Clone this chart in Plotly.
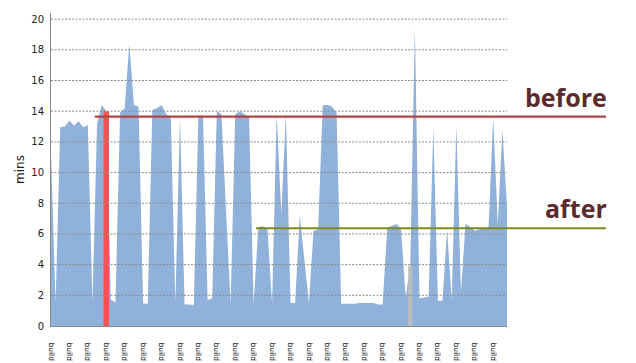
import plotly.graph_objects as go

# ---- data ----
mins = [11.3, 1.5, 12.95, 13.0, 13.4, 13.05, 13.35, 12.95, 13.1, 1.5,
        13.2, 14.4, 14.0, 1.7, 1.55, 13.9, 14.2, 18.4, 14.4, 14.3,
        1.47, 1.45, 14.1, 14.2, 14.4, 13.8, 13.6, 1.5, 13.6, 1.4,
        1.4, 1.35, 13.7, 13.7, 1.7, 1.8, 14.0, 13.8, 7.5, 1.4,
        13.8, 14.0, 13.8, 13.6, 1.4, 6.45, 6.5, 6.3, 1.45, 13.85,
        7.3, 13.85, 1.5, 1.5, 7.2, 4.5, 1.5, 6.2, 6.3, 14.4,
        14.4, 14.3, 13.9, 1.45, 1.45, 1.45, 1.45, 1.5, 1.5, 1.5,
        1.5, 1.4, 1.4, 6.4, 6.55, 6.65, 6.3, 1.85, 3.9, 19.5,
        1.8, 1.85, 1.9, 12.9, 1.65, 1.65, 6.3, 1.65, 13.1, 2.2,
        6.67, 6.45, 6.2, 6.3, 6.4, 6.4, 13.6, 6.6, 12.8, 7.7]
builds = list(range(len(mins)))
tick_idx = builds[::4]
tick_text = ["build"] * len(tick_idx)
y_ticks = [0, 2, 4, 6, 8, 10, 12, 14, 16, 18, 20]

failed_build = 12      # red highlight
pending_build = 78     # grey highlight

before_value = 13.65
before_start = 9.5
after_value = 6.37
after_start = 44.5

# ---- layout constants ----
X_MAX = len(mins) - 1
LINE_END_PAPER = 1.217

fig = go.Figure()
fig.add_trace(go.Scatter(x=builds, y=mins, mode="lines", fill="tozeroy",
                         line=dict(width=0, color="#8FB1DA"),
                         fillcolor="#8FB1DA", hoverinfo="skip"))
fig.add_trace(go.Scatter(x=[failed_build, failed_build], y=[0, mins[failed_build]],
                         mode="lines", line=dict(width=5.5, color="#F25454"),
                         hoverinfo="skip"))
fig.add_trace(go.Scatter(x=[pending_build, pending_build], y=[0, mins[pending_build]],
                         mode="lines", line=dict(width=4, color="#BDBDBD"),
                         hoverinfo="skip"))

shapes = []
for v in y_ticks[1:]:
    shapes.append(dict(type="line", xref="paper", yref="y", x0=0, x1=1, y0=v, y1=v,
                       line=dict(color="#8a8a8a", width=1, dash="2px,1.5px"), layer="above"))
shapes.append(dict(type="line", xref="paper", yref="y",
                   x0=before_start / X_MAX, x1=LINE_END_PAPER,
                   y0=before_value, y1=before_value,
                   line=dict(color="#B04545", width=2.2), layer="above"))
shapes.append(dict(type="line", xref="paper", yref="y",
                   x0=after_start / X_MAX, x1=LINE_END_PAPER,
                   y0=after_value, y1=after_value,
                   line=dict(color="#7F8A1E", width=2.2), layer="above"))

annotations = [
    dict(text="<b>before</b>", xref="paper", yref="y", x=LINE_END_PAPER, y=before_value,
         xanchor="right", yanchor="bottom", yshift=1, xshift=3, showarrow=False,
         font=dict(family="Open Sans", size=25, color="#5B2B2B")),
    dict(text="<b>after</b>", xref="paper", yref="y", x=LINE_END_PAPER, y=after_value,
         xanchor="right", yanchor="bottom", yshift=1, xshift=3, showarrow=False,
         font=dict(family="Open Sans", size=25, color="#5B2B2B")),
]

fig.update_layout(
    width=636, height=363,
    margin=dict(l=51, r=129, t=13, b=37),
    plot_bgcolor="white", paper_bgcolor="white",
    showlegend=False,
    shapes=shapes, annotations=annotations,
    font=dict(family="DejaVu Sans", color="#222"),
    xaxis=dict(range=[0, X_MAX], showgrid=False, zeroline=False,
               showline=True, linecolor="#888", linewidth=1,
               tickmode="array", tickvals=tick_idx, ticktext=tick_text,
               tickangle=90, tickfont=dict(size=7.5, color="black"),
               ticks="", ticklabelstandoff=14, automargin=False),
    yaxis=dict(range=[0, 20.4], showgrid=False, zeroline=False,
               showline=True, linecolor="#888", linewidth=1,
               tickmode="array", tickvals=y_ticks,
               tickfont=dict(size=10, color="#222"), ticks="",
               ticklabelstandoff=4,
               title=dict(text="mins", font=dict(size=12, color="#222"), standoff=4),
               automargin=False),
)

fig.write_html("out.html")
